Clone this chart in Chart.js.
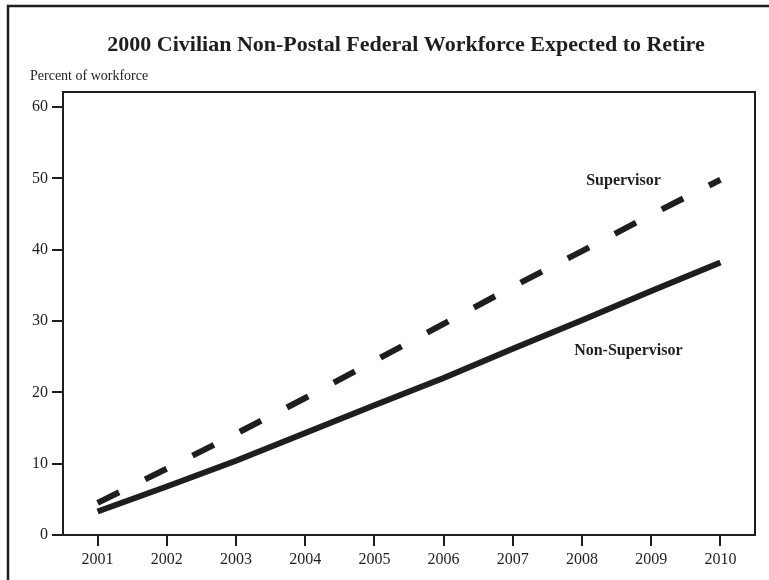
<!DOCTYPE html>
<html>
<head>
<meta charset="utf-8">
<script src="https://cdn.jsdelivr.net/npm/chart.js@4/dist/chart.umd.min.js"></script>
<style>
  html, body { margin: 0; padding: 0; background: #fff; }
  #wrap { width: 769px; height: 580px; position: relative; }
</style>
</head>
<body>
<div id="wrap"><canvas id="c" width="769" height="580"></canvas></div>
<script>
// Data
const years = [2001, 2002, 2003, 2004, 2005, 2006, 2007, 2008, 2009, 2010];
const supervisor = [4.5, 9.3, 14.2, 19.2, 24.4, 29.6, 34.8, 39.8, 44.9, 49.8];
const nonSupervisor = [3.3, 6.8, 10.4, 14.3, 18.2, 22.0, 26.1, 30.1, 34.2, 38.2];
const yTicks = [0, 10, 20, 30, 40, 50, 60];

const title = '2000 Civilian Non-Postal Federal Workforce Expected to Retire';
const yTitle = 'Percent of workforce';
// series labels placed in data units
const seriesLabels = [
    { text: 'Supervisor', x: 2008.6, y: 49.6 },
    { text: 'Non-Supervisor', x: 2008.67, y: 25.8 },
];

const ink = '#1e1e1e';
const serif = '"Liberation Serif", "DejaVu Serif", serif';

const decor = {
    id: 'decor',
    beforeDraw(chart) {
        const c = chart.ctx;
        c.save();
        c.fillStyle = '#fff';
        c.fillRect(0, 0, chart.width, chart.height);
        // outer frame (only left/top visible in the crop)
        c.strokeStyle = ink;
        c.lineWidth = 2.5;
        c.beginPath();
        c.moveTo(8, chart.height + 5);
        c.lineTo(8, 6);
        c.lineTo(chart.width + 5, 6);
        c.stroke();
        c.restore();
    },
    afterDraw(chart) {
        const c = chart.ctx;
        const a = chart.chartArea;
        const xs = chart.scales.x, ys = chart.scales.y;
        c.save();
        // plot box top/right
        c.strokeStyle = ink;
        c.lineWidth = 2;
        c.beginPath();
        c.moveTo(a.left, a.top);
        c.lineTo(a.right, a.top);
        c.lineTo(a.right, a.bottom);
        c.stroke();

        c.fillStyle = ink;
        c.font = 'bold 22px ' + serif;
        c.textAlign = 'center';
        c.textBaseline = 'middle';
        c.fillText(title, 406, 45);

        c.font = '14px ' + serif;
        c.textAlign = 'left';
        c.fillText(yTitle, 30, 76);

        c.font = 'bold 16px ' + serif;
        c.textAlign = 'center';
        seriesLabels.forEach(l => {
            c.fillText(l.text, xs.getPixelForValue(l.x), ys.getPixelForValue(l.y));
        });
        c.restore();
    }
};

new Chart(document.getElementById('c'), {
    type: 'line',
    data: {
        datasets: [
            {
                label: 'Supervisor',
                data: years.map((y, i) => ({ x: y, y: supervisor[i] })),
                borderColor: ink, borderWidth: 6, borderDash: [24, 29],
                borderCapStyle: 'butt', pointRadius: 0, tension: 0, fill: false
            },
            {
                label: 'Non-Supervisor',
                data: years.map((y, i) => ({ x: y, y: nonSupervisor[i] })),
                borderColor: ink, borderWidth: 6,
                borderCapStyle: 'butt', pointRadius: 0, tension: 0, fill: false
            }
        ]
    },
    options: {
        responsive: false,
        animation: false,
        layout: { padding: { left: 0, top: 92, right: 14, bottom: 0 } },
        plugins: { legend: { display: false }, tooltip: { enabled: false } },
        scales: {
            x: {
                type: 'linear', min: 2000.5, max: 2010.5,
                afterBuildTicks: s => { s.ticks = years.map(v => ({ value: v })); },
                afterFit: s => { s.height = 45; },
                ticks: { color: ink, font: { family: serif, size: 16 }, padding: 4, callback: v => String(v), maxRotation: 0 },
                grid: { drawOnChartArea: false, drawTicks: true, tickLength: 11, color: ink, lineWidth: 2 },
                border: { display: true, color: ink, width: 2 }
            },
            y: {
                min: 0, max: 62.1,
                afterBuildTicks: s => { s.ticks = yTicks.map(v => ({ value: v })); },
                afterFit: s => { s.width = 63; },
                ticks: { color: ink, font: { family: serif, size: 16 }, padding: 4 },
                grid: { drawOnChartArea: false, drawTicks: true, tickLength: 11, color: ink, lineWidth: 2 },
                border: { display: true, color: ink, width: 2 }
            }
        }
    },
    plugins: [decor]
});
</script>
</body>
</html>
